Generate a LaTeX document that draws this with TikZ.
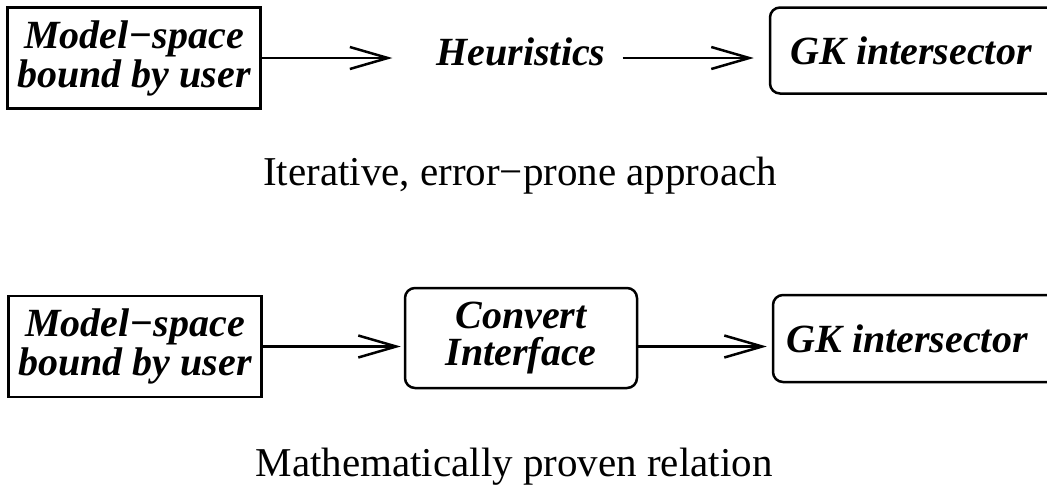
\documentclass[tikz,border=0pt]{standalone}
\usepackage{fontspec}
\setmainfont{Liberation Serif}
\usetikzlibrary{positioning,arrows.meta}

\begin{document}
\begin{tikzpicture}[x=1pt,y=-1pt,
  box/.style={draw,line width=2.5pt,inner sep=0pt,align=center,font=\fontsize{40}{39}\selectfont\bfseries\itshape},
  sbox/.style={box,minimum width=253pt,minimum height=101pt},
  rbox/.style={box,rounded corners=10pt},
  arr/.style={line width=2.5pt,-{Straight Barb[length=38pt,width=22pt,line width=2.5pt]}},
  txt/.style={inner sep=0pt,font=\fontsize{41}{44}\selectfont}]
      \useasboundingbox (0,0) rectangle (1047,491);
      \clip (0,0) rectangle (1047,491);

      % top row
      \node[sbox] (user1) at (134,58) {Model−space\\bound by user};
      \node[txt,anchor=base,font=\fontsize{40}{39}\selectfont\bfseries\itshape] (heur) at (521,65) {Heuristics};
      \node[rbox,minimum width=300pt,minimum height=86pt] (gk1) at (920,50.5) {GK intersector\hspace*{18pt}};
      \node[txt,anchor=base] (cap1) at (520,185) {Iterative, error−prone approach};

      \draw[arr] (user1.east) -- ([xshift=-44pt]heur.west |- user1.east);
      \draw[arr,shorten >=15pt] ([xshift=17pt]heur.east |- user1.east) -- (gk1.west |- user1.east);

      % bottom row
      \node[sbox] (user2) at (135,346.5) {Model−space\\bound by user};
      \node[rbox,minimum width=232pt,minimum height=100pt,font=\fontsize{40}{37}\selectfont\bfseries\itshape] (conv) at (521,338) {Convert\\Interface};
      \node[rbox,minimum width=297pt,minimum height=87pt] (gk2) at (921.5,338.5) {GK intersector\hspace*{29pt}};
      \node[txt,anchor=base] (cap2) at (514,476) {Mathematically proven relation};

      \draw[arr,shorten >=3pt] (user2.east) -- (conv.west |- user2.east);
      \draw[arr,shorten >=5pt] (conv.east |- user2.east) -- (gk2.west |- user2.east);
\end{tikzpicture}
\end{document}
